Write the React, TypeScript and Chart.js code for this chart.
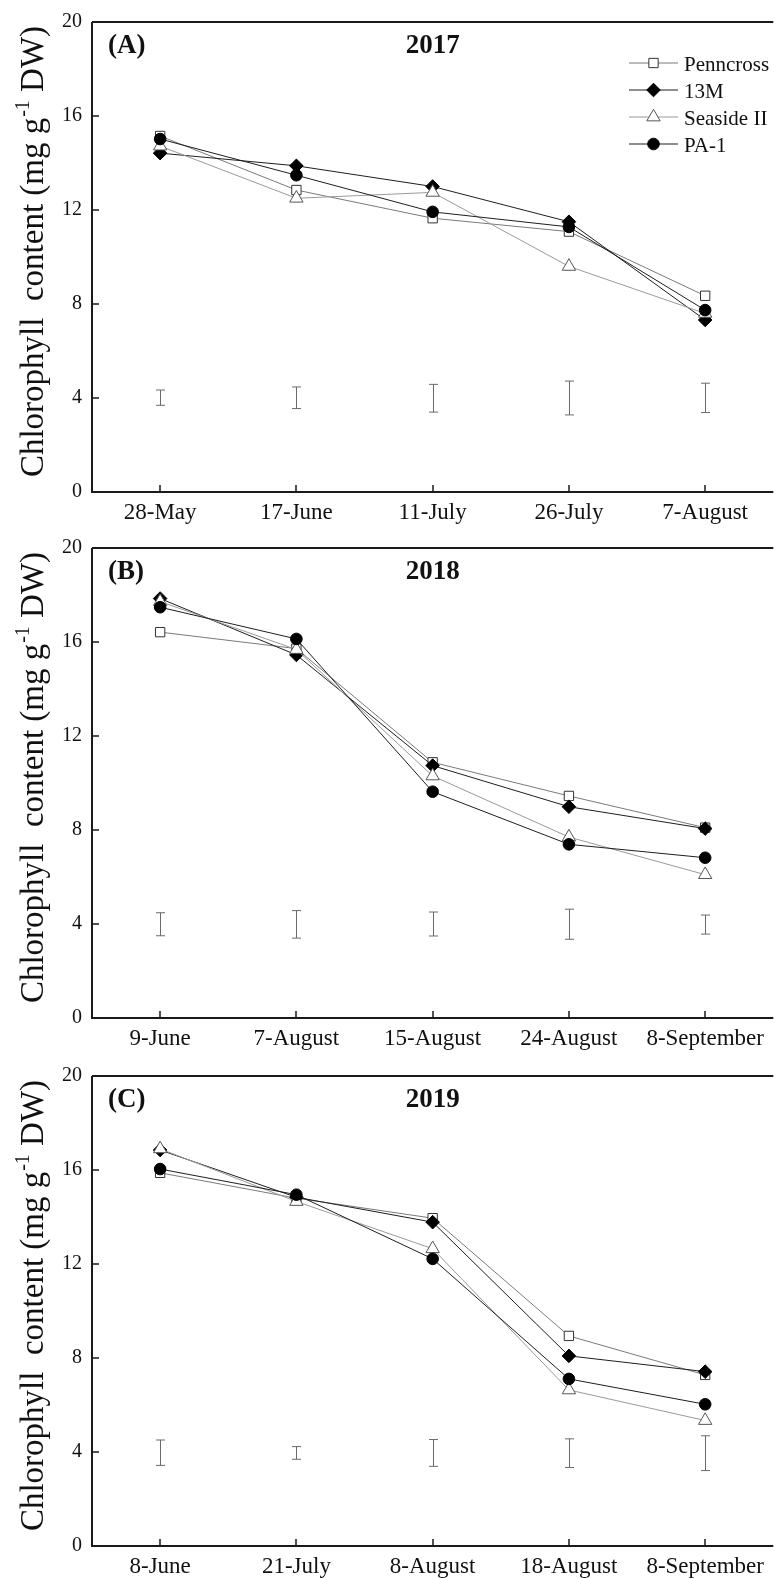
import { useEffect, useRef } from 'react';
import { Chart, registerables } from 'chart.js';

Chart.register(...registerables);

const SERIF = '"Liberation Serif", "Times New Roman", serif';

// Cultivars, in legend order
const cultivars = ['Penncross', '13M', 'Seaside II', 'PA-1'];

// 2017 sampling dates and chlorophyll content (mg g-1 DW)
const dates2017 = ['28-May', '17-June', '11-July', '26-July', '7-August'];
const penncross2017 = [15.15, 12.85, 11.65, 11.08, 8.35];
const m13_2017 = [14.42, 13.88, 13.0, 11.5, 7.32];
const seaside2017 = [14.72, 12.5, 12.75, 9.6, 7.6];
const pa1_2017 = [15.02, 13.48, 11.92, 11.28, 7.74];
const lsdLow2017 = [3.69, 3.55, 3.4, 3.28, 3.38];
const lsdHigh2017 = [4.34, 4.47, 4.58, 4.72, 4.63];

// 2018
const dates2018 = ['9-June', '7-August', '15-August', '24-August', '8-September'];
const penncross2018 = [16.42, 15.72, 10.88, 9.45, 8.1];
const m13_2018 = [17.85, 15.45, 10.74, 8.99, 8.06];
const seaside2018 = [17.72, 15.68, 10.3, 7.7, 6.1];
const pa1_2018 = [17.48, 16.13, 9.63, 7.39, 6.82];
const lsdLow2018 = [3.5, 3.4, 3.49, 3.35, 3.57];
const lsdHigh2018 = [4.48, 4.57, 4.51, 4.63, 4.38];

// 2019
const dates2019 = ['8-June', '21-July', '8-August', '18-August', '8-September'];
const penncross2019 = [15.88, 14.8, 13.95, 8.94, 7.28];
const m13_2019 = [16.85, 14.84, 13.78, 8.09, 7.42];
const seaside2019 = [16.9, 14.66, 12.65, 6.64, 5.34];
const pa1_2019 = [16.04, 14.95, 12.22, 7.11, 6.03];
const lsdLow2019 = [3.43, 3.69, 3.39, 3.34, 3.21];
const lsdHigh2019 = [4.51, 4.23, 4.53, 4.56, 4.69];

const yTicks = [0, 4, 8, 12, 16, 20];

type Shape = 'rect' | 'rectRot' | 'triangle' | 'circle';
const seriesStyle: { line: string; fill: string; edge: string; shape: Shape; radius: number; order: number }[] = [
  { line: '#7a7a7a', fill: '#ffffff', edge: '#333333', shape: 'rect', radius: 6.6, order: 3 },
  { line: '#1e1e1e', fill: '#000000', edge: '#000000', shape: 'rectRot', radius: 6.8, order: 2 },
  { line: '#9a9a9a', fill: '#ffffff', edge: '#555555', shape: 'triangle', radius: 7.7, order: 1 },
  { line: '#1e1e1e', fill: '#000000', edge: '#000000', shape: 'circle', radius: 5.8, order: 0 },
];

function markerPath(ctx: CanvasRenderingContext2D, shape: Shape, r: number, x: number, y: number) {
  ctx.beginPath();
  if (shape === 'rect') {
    const s = Math.SQRT1_2 * r;
    ctx.rect(x - s, y - s, 2 * s, 2 * s);
  } else if (shape === 'rectRot') {
    ctx.moveTo(x - r, y);
    ctx.lineTo(x, y - r);
    ctx.lineTo(x + r, y);
    ctx.lineTo(x, y + r);
    ctx.closePath();
  } else if (shape === 'triangle') {
    let a = 0;
    ctx.moveTo(x + Math.sin(a) * r, y - Math.cos(a) * r);
    a += (2 * Math.PI) / 3;
    ctx.lineTo(x + Math.sin(a) * r, y - Math.cos(a) * r);
    a += (2 * Math.PI) / 3;
    ctx.lineTo(x + Math.sin(a) * r, y - Math.cos(a) * r);
    ctx.closePath();
  } else {
    ctx.arc(x, y, r, 0, Math.PI * 2);
  }
}

type PanelProps = {
  top: number;
  tag: string;
  year: string;
  dates: string[];
  values: number[][];
  lsdLow: number[];
  lsdHigh: number[];
  legend: boolean;
};

function Panel({ top, tag, year, dates, values, lsdLow, lsdHigh, legend }: PanelProps) {
  const ref = useRef<HTMLCanvasElement>(null);

  useEffect(() => {
    const canvas = ref.current;
    if (!canvas) return;

    const framePlugin = {
      id: 'panelFrame',
      beforeDatasetsDraw(chart: any) {
        const { ctx, chartArea: a, scales } = chart;
        const x = scales.x;
        const y = scales.y;
        ctx.save();

        // LSD bars
        ctx.strokeStyle = '#6a6a6a';
        ctx.lineWidth = 1;
        dates.forEach((_, i) => {
          const px = Math.round(x.getPixelForValue(i)) + 0.5;
          const yt = y.getPixelForValue(lsdHigh[i]);
          const yb = y.getPixelForValue(lsdLow[i]);
          ctx.beginPath();
          ctx.moveTo(px, yt);
          ctx.lineTo(px, yb);
          ctx.moveTo(px - 4.5, yt);
          ctx.lineTo(px + 4.5, yt);
          ctx.moveTo(px - 4.5, yb);
          ctx.lineTo(px + 4.5, yb);
          ctx.stroke();
        });

        // axis frame (left, bottom, top)
        ctx.strokeStyle = '#1a1a1a';
        ctx.lineWidth = 2;
        ctx.beginPath();
        ctx.moveTo(a.left, a.top);
        ctx.lineTo(a.left, a.bottom);
        ctx.lineTo(a.right, a.bottom);
        ctx.moveTo(a.left, a.top);
        ctx.lineTo(a.right, a.top);
        ctx.stroke();

        // inward tick marks
        ctx.lineWidth = 1.5;
        ctx.beginPath();
        dates.forEach((_, i) => {
          const px = Math.round(x.getPixelForValue(i));
          ctx.moveTo(px, a.bottom);
          ctx.lineTo(px, a.bottom - 7);
        });
        yTicks.slice(1, -1).forEach((v) => {
          const py = Math.round(y.getPixelForValue(v));
          ctx.moveTo(a.left, py);
          ctx.lineTo(a.left + 7, py);
        });
        ctx.stroke();
        ctx.restore();
      },
      afterDraw(chart: any) {
        const { ctx, chartArea: a, scales } = chart;
        const x = scales.x;
        ctx.save();
        ctx.fillStyle = '#111111';

        // panel tag and year
        ctx.font = `bold 27px ${SERIF}`;
        ctx.textBaseline = 'alphabetic';
        ctx.textAlign = 'left';
        ctx.fillText(tag, 108, a.top + 31);
        ctx.textAlign = 'center';
        ctx.fillText(year, x.getPixelForValue(2), a.top + 31);

        // y-axis title with superscript
        const main1 = 'Chlorophyll  content (mg g';
        const sup = '-1';
        const main2 = ' DW)';
        ctx.font = `33px ${SERIF}`;
        const w1 = ctx.measureText(main1).width;
        const w3 = ctx.measureText(main2).width;
        ctx.font = `20px ${SERIF}`;
        const w2 = ctx.measureText(sup).width;
        const total = w1 + w2 + w3;
        ctx.translate(43, (a.top + a.bottom) / 2 - 5);
        ctx.rotate(-Math.PI / 2);
        ctx.textAlign = 'left';
        let cx = -total / 2;
        ctx.font = `33px ${SERIF}`;
        ctx.fillText(main1, cx, 0);
        cx += w1;
        ctx.font = `20px ${SERIF}`;
        ctx.fillText(sup, cx + 1, -14);
        cx += w2 + 1;
        ctx.font = `33px ${SERIF}`;
        ctx.fillText(main2, cx, 0);
        ctx.restore();

        // legend
        if (legend) {
          ctx.save();
          ctx.font = `21px ${SERIF}`;
          ctx.textAlign = 'left';
          ctx.textBaseline = 'alphabetic';
          cultivars.forEach((name, k) => {
            const st = seriesStyle[k];
            const ly = 63 + 27 * k;
            ctx.strokeStyle = st.line;
            ctx.lineWidth = 1.2;
            ctx.beginPath();
            ctx.moveTo(629, ly);
            ctx.lineTo(678, ly);
            ctx.stroke();
            markerPath(ctx, st.shape, st.radius, 653.5, ly);
            ctx.fillStyle = st.fill;
            ctx.fill();
            ctx.strokeStyle = st.edge;
            ctx.lineWidth = 1;
            ctx.stroke();
            ctx.fillStyle = '#111111';
            ctx.fillText(name, 684, ly + 7.5);
          });
          ctx.restore();
        }
      },
    };

    const chart = new Chart(canvas, {
      type: 'line',
      data: {
        labels: dates,
        datasets: cultivars.map((name, k) => ({
          label: name,
          data: values[k],
          order: seriesStyle[k].order,
          borderColor: seriesStyle[k].line,
          borderWidth: 1,
          pointStyle: seriesStyle[k].shape,
          pointRadius: seriesStyle[k].radius,
          pointBackgroundColor: seriesStyle[k].fill,
          pointBorderColor: seriesStyle[k].edge,
          pointBorderWidth: 1,
          tension: 0,
          fill: false,
          clip: false as any,
        })),
      },
      options: {
        responsive: false,
        animation: false,
        devicePixelRatio: 1,
        events: [],
        layout: { padding: { top: 22, left: 0, right: 0, bottom: 0 } },
        plugins: { legend: { display: false }, tooltip: { enabled: false } },
        scales: {
          x: {
            type: 'category',
            offset: true,
            grid: { display: false, drawTicks: false },
            border: { display: false },
            ticks: {
              color: '#111111',
              font: { family: SERIF, size: 23 },
              padding: 7,
              maxRotation: 0,
              autoSkip: false,
            },
            afterFit: (s: any) => {
              s.height = 32;
            },
          },
          y: {
            min: 0,
            max: 20,
            grid: { display: false, drawTicks: false },
            border: { display: false },
            afterBuildTicks: (s: any) => {
              s.ticks = yTicks.map((v) => ({ value: v }));
            },
            ticks: {
              color: '#111111',
              font: { family: SERIF, size: 20 },
              padding: 10,
            },
            afterFit: (s: any) => {
              s.width = 92;
            },
          },
        },
      },
      plugins: [framePlugin],
    } as any);

    return () => chart.destroy();
  }, []);

  return (
    <canvas
      ref={ref}
      width={782}
      height={524}
      style={{ position: 'absolute', left: 0, top, width: 782, height: 524, display: 'block' }}
    />
  );
}

export default function App() {
  return (
    <div style={{ position: 'absolute', left: 0, top: 0, width: 782, height: 1578, background: '#ffffff', overflow: 'hidden' }}>
      <Panel
        top={0}
        tag="(A)"
        year="2017"
        dates={dates2017}
        values={[penncross2017, m13_2017, seaside2017, pa1_2017]}
        lsdLow={lsdLow2017}
        lsdHigh={lsdHigh2017}
        legend
      />
      <Panel
        top={526}
        tag="(B)"
        year="2018"
        dates={dates2018}
        values={[penncross2018, m13_2018, seaside2018, pa1_2018]}
        lsdLow={lsdLow2018}
        lsdHigh={lsdHigh2018}
        legend={false}
      />
      <Panel
        top={1054}
        tag="(C)"
        year="2019"
        dates={dates2019}
        values={[penncross2019, m13_2019, seaside2019, pa1_2019]}
        lsdLow={lsdLow2019}
        lsdHigh={lsdHigh2019}
        legend={false}
      />
    </div>
  );
}
